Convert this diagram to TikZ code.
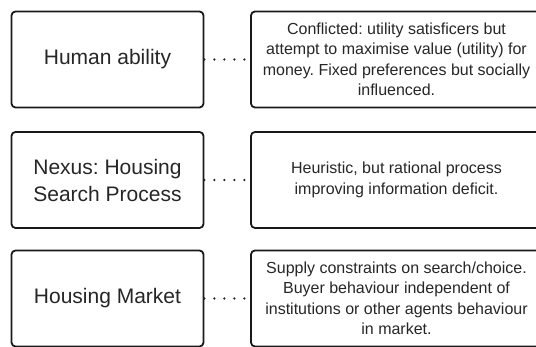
\documentclass[tikz,border=0pt]{standalone}
\usepackage{fontspec}
\setmainfont{Liberation Sans}
\usetikzlibrary{positioning}
\frenchspacing

\begin{document}
\begin{tikzpicture}[x=1pt,y=-1pt,
  level/.style={draw=black!90,line width=1.8pt,rounded corners=4pt,
    minimum width=192pt,minimum height=96pt,align=center,text=black!85,
    font=\fontsize{21}{27}\selectfont},
  note/.style={draw=black!90,line width=1.8pt,rounded corners=4pt,
    minimum width=291pt,minimum height=96pt,align=center,text=black!85,
    font=\fontsize{16}{20.5}\selectfont},
  dots/.style={line width=2.6pt,line cap=round,dash pattern=on 0pt off 10pt,black!85}]

\clip (0,0) rectangle (536,347);

\node[level] (human) at (107.5,59.5) {Human ability};
\node[level] (nexus) at (107.5,180) {Nexus: Housing\\Search Process};
\node[level] (market) at (107.5,298.5) {Housing Market};

\node[note] (humannote) at (396.5,59.5) {Conflicted: utility satisficers but\\attempt to maximise value (utility) for\\money. Fixed preferences but socially\\influenced.};
\node[note] (nexusnote) at (396.5,180) {Heuristic, but rational process\\improving information deficit.};
\node[note] (marketnote) at (396.5,298.5) {Supply constraints on search/choice.\\Buyer behaviour independent of\\institutions or other agents behaviour\\in market.};

\draw[dots] (human.east) -- (humannote.west);
\draw[dots] (nexus.east) -- (nexusnote.west);
\draw[dots] (market.east) -- (marketnote.west);

\end{tikzpicture}
\end{document}
